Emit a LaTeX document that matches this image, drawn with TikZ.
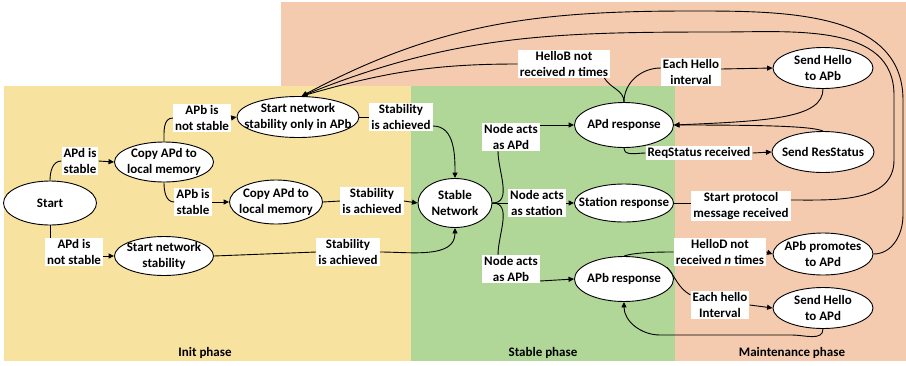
\documentclass[tikz,border=0pt]{standalone}
\usepackage{fontspec}
\setmainfont{Carlito}
\usetikzlibrary{shapes.geometric,arrows.meta}

\definecolor{initbg}{HTML}{F8E2A0}
\definecolor{stablebg}{HTML}{B0D698}
\definecolor{maintbg}{HTML}{F5CBB0}

\tikzset{
  txt/.style={font=\bfseries\fontsize{13}{15.5}\selectfont},
  % the ellipse size comes from minimum width/height only
  st/.style={ellipse, draw, fill=white, line width=0.9pt, inner xsep=-60pt, inner ysep=-30pt, align=center, txt},
  lab/.style={fill=white, inner xsep=2pt, inner ysep=1.5pt, align=center, txt},
  ln/.style={line width=0.9pt},
  arr/.style={ln, -{Triangle[length=5.5pt,width=5pt]}},
}

\begin{document}
\begin{tikzpicture}[x=1pt,y=1pt]
\useasboundingbox (0,0) rectangle (906,-365);

% phase backgrounds
\fill[maintbg] (281,-2) rectangle (906,-361);
\fill[initbg] (4,-86) rectangle (411,-361);
\fill[stablebg] (411,-86) rectangle (675,-361);

\node[txt] (pinit) at (205,-353) {Init phase};
\node[txt] (pstable) at (543,-353) {Stable phase};
\node[txt] (pmaint) at (792,-353) {Maintenance phase};

% states
\node[st, minimum width=93, minimum height=44] (start) at (50,-203) {Start};
\node[st, minimum width=99, minimum height=40] (copy1) at (164,-162) {Copy APd to\\local memory};
\node[st, minimum width=122, minimum height=41] (startapb) at (298,-117) {Start network\\stability only in APb};
\node[st, minimum width=93, minimum height=44] (copy2) at (276,-202) {Copy APd to\\local memory};
\node[st, minimum width=99, minimum height=39] (startnet) at (164,-256) {Start network\\stability};
\node[st, minimum width=74, minimum height=49] (stable) at (455,-203) {Stable\\Network};
\node[st, minimum width=99, minimum height=45] (apdresp) at (624,-125) {APd response};
\node[st, minimum width=100, minimum height=41] (sendhb) at (823,-68) {Send Hello\\to APb};
\node[st, minimum width=102, minimum height=41] (sendrs) at (823,-152) {Send ResStatus};
\node[st, minimum width=99, minimum height=38] (stationresp) at (624,-203) {Station response};
\node[st, minimum width=100, minimum height=42] (apbprom) at (823,-254) {APb promotes\\to APd};
\node[st, minimum width=99, minimum height=45] (apbresp) at (624,-279) {APb response};
\node[st, minimum width=100, minimum height=41] (sendhd) at (823,-308) {Send Hello\\to APd};

% transition labels
\node[lab] (l1) at (80,-161) {APd is\\stable};
\node[lab] (l2) at (74,-252) {APd is\\not stable};
\node[lab] (l3) at (202,-118) {APb is\\not stable};
\node[lab] (l4) at (193,-202) {APb is\\stable};
\node[lab] (l5) at (401,-117) {Stability\\is achieved};
\node[lab] (l6) at (372,-201) {Stability\\is achieved};
\node[lab] (l7) at (348,-252) {Stability\\is achieved};
\node[lab] (l8) at (511,-137) {Node acts\\as APd};
\node[lab] (l9) at (537,-203) {Node acts\\as station};
\node[lab] (l10) at (511,-269) {Node acts\\as APb};
\node[lab] (l11) at (564,-64) {HelloB not\\received \textit{n} times};
\node[lab] (l12) at (691,-72) {Each Hello\\interval};
\node[lab] (l13) at (699,-153) {ReqStatus received};
\node[lab] (l14) at (741,-206) {Start protocol\\message received};
\node[lab] (l15) at (720,-252) {HelloD not\\received \textit{n} times};
\node[lab] (l16) at (720,-305) {Each hello\\Interval};

% init phase
\draw[ln] (start.north) to[out=90,in=180] (l1.west);
\draw[arr] (l1.east) -- (copy1.west);
\draw[ln] (start.south) -- (start.south |- l2.north);
\draw[arr] (l2.east |- startnet.west) -- (startnet.west);
\draw[ln] (copy1.north) to[out=90,in=180] (l3.west);
\draw[arr] (l3.east) -- (startapb.west);
\draw[ln] (copy1.south) to[out=-90,in=180] (l4.west);
\draw[arr] (l4.east) -- (copy2.west);
\draw[ln] (startapb.east) -- (l5.west);
\draw[arr] ([yshift=-9pt]l5.east) to[out=0,in=90] (stable.north);
\draw[ln] (copy2.east) -- (l6.west);
\draw[arr] (l6.east) -- (stable.west);
\draw[ln] (startnet.east) -- (l7.west);
\draw[arr] (l7.east) to[out=0,in=-90] (stable.south);

% stable phase
\draw[ln] (stable.east) to[out=0,in=-90] ([xshift=-13pt]l8.south);
\draw[arr] (l8.east |- apdresp.west) -- (apdresp.west);
\draw[ln] (stable.east) -- (l9.west);
\draw[arr] (l9.east) -- (stationresp.west);
\draw[ln] (stable.east) to[out=0,in=90] ([xshift=-13pt]l10.north);
\draw[arr] ([yshift=-2pt]l10.east |- apbresp.west) -- (apbresp.west);

% APd response
\draw[ln] (apdresp.north) to[out=90,in=180] ([yshift=4pt]l12.west);
\draw[arr] ([yshift=3pt]l12.east) -- (sendhb.west);
\draw[ln] (apdresp.north) to[out=90,in=-60] ([xshift=-6pt]l11.south east);
\draw[arr] (l11.west) to[out=180,in=16] (startapb.80);
\draw[arr] (sendhb.south) .. controls (823,-118) and (770,-121) .. (apdresp.east);
\draw[arr] (sendrs.north) .. controls (812,-126) and (760,-125) .. (apdresp.east);
\draw[ln] (apdresp.south) to[out=-90,in=180] (l13.west);
\draw[arr] (l13.east) -- (sendrs.west);

% station response
\draw[ln] (stationresp.east) -- (stationresp.east -| l14.west);
\draw[arr] ([yshift=6pt]l14.east) to[out=0,in=-90] (894,-160) -- (894,-95)
  to[out=90,in=0] (720,-32) to[out=180,in=22] (startapb.80);

% APb response
\draw[ln] (apbresp.north) to[out=20,in=180,looseness=0.6] (l15.west);
\draw[arr] (l15.east) -- (apbprom.west);
\draw[arr] (apbprom.east) to[out=0,in=-90] (903,-215) -- (903,-100)
  to[out=90,in=0] (690,-11) to[out=180,in=28] (startapb.80);
\draw[ln] (apbresp.15) to[out=-50,in=150] ([yshift=-4pt]l16.north west);
\draw[arr] (l16.east) -- (sendhd.west);
\draw[arr] (sendhd.south) to[out=-90,in=0] (792,-335) -- (660,-335)
  to[out=180,in=-90] (apbresp.south);
\end{tikzpicture}
\end{document}
